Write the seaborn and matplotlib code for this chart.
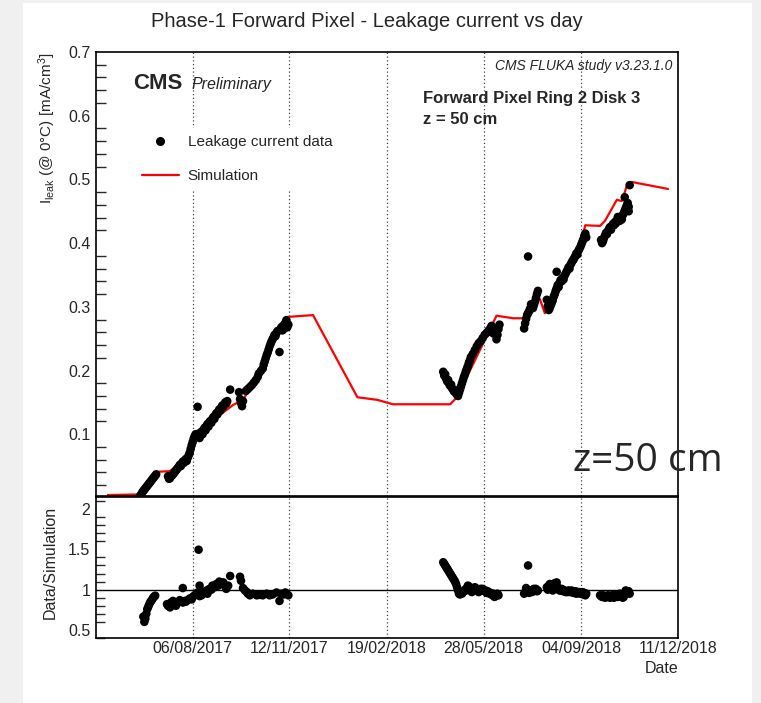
import numpy as np
import pandas as pd
import matplotlib
matplotlib.use('Agg')
import matplotlib.pyplot as plt
import matplotlib.dates as mdates
from matplotlib.ticker import MultipleLocator, FixedLocator
from matplotlib.patches import Rectangle
from matplotlib.lines import Line2D
import seaborn as sns

# ---------------- data ----------------
sim_dates = ["2017-05-12", "2017-06-13", "2017-07-01", "2017-07-14", "2017-07-24", "2017-08-03",
             "2017-08-13", "2017-09-05", "2017-09-16", "2017-09-26", "2017-10-10", "2017-10-23",
             "2017-11-09", "2017-12-06", "2018-01-20", "2018-02-09", "2018-02-25", "2018-04-24",
             "2018-05-01", "2018-06-10", "2018-06-27", "2018-07-07", "2018-07-17", "2018-07-24",
             "2018-07-29", "2018-08-03", "2018-08-10", "2018-08-20", "2018-08-31", "2018-09-08",
             "2018-09-23", "2018-09-28", "2018-10-10", "2018-10-15", "2018-10-21", "2018-10-25",
             "2018-12-01"]
sim_values = [0.0045, 0.0055, 0.041, 0.042, 0.055, 0.064,
              0.102, 0.133, 0.146, 0.154, 0.190, 0.232,
              0.284, 0.287, 0.158, 0.154, 0.147, 0.147,
              0.158, 0.286, 0.282, 0.282, 0.308, 0.312,
              0.290, 0.300, 0.315, 0.353, 0.378, 0.428,
              0.427, 0.435, 0.468, 0.466, 0.494, 0.496,
              0.485]

data_dates = [
    "2017-06-14", "2017-06-15", "2017-06-16", "2017-06-17", "2017-06-18", "2017-06-19", "2017-06-20",
    "2017-06-21", "2017-06-22", "2017-06-23", "2017-06-24", "2017-06-25", "2017-06-26", "2017-06-27",
    "2017-06-28", "2017-06-29", "2017-06-30",
    "2017-07-12", "2017-07-13", "2017-07-14", "2017-07-15", "2017-07-16", "2017-07-17", "2017-07-18",
    "2017-07-19", "2017-07-20", "2017-07-21", "2017-07-22", "2017-07-23", "2017-07-24", "2017-07-25",
    "2017-07-26", "2017-07-27", "2017-07-28", "2017-07-29", "2017-07-30", "2017-07-31", "2017-08-01",
    "2017-08-02", "2017-08-03",
    "2017-08-04", "2017-08-05", "2017-08-06", "2017-08-07", "2017-08-08", "2017-08-09", "2017-08-11",
    "2017-08-10", "2017-08-12", "2017-08-13", "2017-08-14", "2017-08-15", "2017-08-16", "2017-08-17",
    "2017-08-18", "2017-08-19", "2017-08-20", "2017-08-21", "2017-08-22", "2017-08-23", "2017-08-24",
    "2017-08-25", "2017-08-26", "2017-08-27", "2017-08-28", "2017-08-29", "2017-08-30", "2017-08-31",
    "2017-09-01", "2017-09-02", "2017-09-03", "2017-09-04", "2017-09-05", "2017-09-06", "2017-09-07",
    "2017-09-08", "2017-09-09", "2017-09-10", "2017-09-13",
    "2017-09-22", "2017-09-23", "2017-09-24", "2017-09-25", "2017-09-26",
    "2017-09-29", "2017-10-01", "2017-10-03", "2017-10-05", "2017-10-07", "2017-10-09", "2017-10-11",
    "2017-10-12", "2017-10-14", "2017-10-16", "2017-10-17", "2017-10-18", "2017-10-19", "2017-10-20",
    "2017-10-21", "2017-10-22", "2017-10-23", "2017-10-24", "2017-10-25", "2017-10-26", "2017-10-27",
    "2017-10-28", "2017-10-29", "2017-10-30", "2017-10-31", "2017-11-02", "2017-11-03", "2017-11-04",
    "2017-11-05", "2017-11-06", "2017-11-07", "2017-11-08", "2017-11-09", "2017-11-10", "2017-11-11",
    "2018-04-17", "2018-04-18", "2018-04-19", "2018-04-20", "2018-04-21", "2018-04-22", "2018-04-23",
    "2018-04-24", "2018-04-25", "2018-04-26", "2018-04-27", "2018-04-28", "2018-04-29", "2018-04-30",
    "2018-05-01", "2018-05-02", "2018-05-03", "2018-05-04", "2018-05-05", "2018-05-06", "2018-05-07",
    "2018-05-08", "2018-05-09", "2018-05-10", "2018-05-11", "2018-05-12", "2018-05-13", "2018-05-14",
    "2018-05-15", "2018-05-17", "2018-05-19", "2018-05-21", "2018-05-23", "2018-05-25", "2018-05-27",
    "2018-05-29", "2018-05-31", "2018-06-02", "2018-06-04", "2018-06-05", "2018-06-07", "2018-06-08",
    "2018-06-10", "2018-06-11", "2018-06-12", "2018-06-13",
    "2018-07-08", "2018-07-09", "2018-07-10", "2018-07-11", "2018-07-12", "2018-07-12", "2018-07-13",
    "2018-07-14", "2018-07-15", "2018-07-16", "2018-07-17", "2018-07-18", "2018-07-19", "2018-07-20",
    "2018-07-21", "2018-07-22",
    "2018-07-31", "2018-08-01", "2018-08-02", "2018-08-03", "2018-08-04", "2018-08-05", "2018-08-06",
    "2018-08-07", "2018-08-08", "2018-08-09", "2018-08-10", "2018-08-10", "2018-08-11", "2018-08-12",
    "2018-08-13", "2018-08-14", "2018-08-15", "2018-08-16", "2018-08-17", "2018-08-18", "2018-08-19",
    "2018-08-20", "2018-08-21", "2018-08-22", "2018-08-23", "2018-08-24", "2018-08-25", "2018-08-26",
    "2018-08-27", "2018-08-28", "2018-08-29", "2018-08-30", "2018-08-31", "2018-09-01", "2018-09-02",
    "2018-09-03", "2018-09-04", "2018-09-05", "2018-09-06", "2018-09-07", "2018-09-08", "2018-09-09",
    "2018-09-24", "2018-09-25", "2018-09-26", "2018-09-27", "2018-09-28", "2018-09-29", "2018-09-30",
    "2018-10-01", "2018-10-02", "2018-10-03", "2018-10-04", "2018-10-05", "2018-10-06", "2018-10-07",
    "2018-10-08", "2018-10-09", "2018-10-10", "2018-10-11", "2018-10-12", "2018-10-13", "2018-10-14",
    "2018-10-15", "2018-10-16", "2018-10-17", "2018-10-18", "2018-10-18", "2018-10-19", "2018-10-20",
    "2018-10-21", "2018-10-22", "2018-10-22", "2018-10-23"]
data_values = [
    0.004, 0.006, 0.009, 0.011, 0.013, 0.015, 0.017,
    0.019, 0.021, 0.023, 0.025, 0.027, 0.029, 0.031,
    0.033, 0.035, 0.037,
    0.034, 0.030, 0.031, 0.034, 0.035, 0.037, 0.039,
    0.041, 0.043, 0.045, 0.047, 0.049, 0.052, 0.050,
    0.054, 0.057, 0.055, 0.059, 0.061, 0.058, 0.063,
    0.067, 0.071,
    0.077, 0.083, 0.088, 0.093, 0.097, 0.100, 0.143,
    0.096, 0.101, 0.094, 0.099, 0.104, 0.100, 0.107,
    0.110, 0.106, 0.113, 0.116, 0.112, 0.119, 0.121,
    0.118, 0.124, 0.127, 0.124, 0.130, 0.133, 0.131,
    0.136, 0.139, 0.137, 0.142, 0.145, 0.143, 0.147,
    0.150, 0.148, 0.152, 0.170,
    0.166, 0.155, 0.149, 0.144, 0.152,
    0.168, 0.171, 0.174, 0.177, 0.181, 0.185, 0.190,
    0.195, 0.199, 0.203, 0.209, 0.214, 0.219, 0.224,
    0.228, 0.233, 0.238, 0.242, 0.246, 0.249, 0.252,
    0.256, 0.254, 0.259, 0.262, 0.229, 0.265, 0.268,
    0.263, 0.271, 0.266, 0.275, 0.279, 0.268, 0.272,
    0.198, 0.192, 0.194, 0.187, 0.183, 0.185, 0.179,
    0.176, 0.178, 0.172, 0.170, 0.167, 0.169, 0.164,
    0.162, 0.160, 0.165, 0.170, 0.175, 0.180, 0.185,
    0.190, 0.194, 0.199, 0.203, 0.207, 0.212, 0.216,
    0.221, 0.226, 0.232, 0.238, 0.243, 0.246, 0.251,
    0.256, 0.259, 0.263, 0.267, 0.270, 0.258, 0.262,
    0.249, 0.256, 0.265, 0.272,
    0.266, 0.274, 0.281, 0.287, 0.379, 0.290, 0.293,
    0.297, 0.304, 0.300, 0.298, 0.303, 0.308, 0.314,
    0.320, 0.325,
    0.311, 0.301, 0.295, 0.298, 0.302, 0.306, 0.310,
    0.316, 0.320, 0.325, 0.355, 0.329, 0.334, 0.331,
    0.338, 0.342, 0.340, 0.345, 0.343, 0.349, 0.352,
    0.355, 0.358, 0.362, 0.360, 0.366, 0.369, 0.372,
    0.374, 0.377, 0.380, 0.384, 0.382, 0.388, 0.391,
    0.394, 0.398, 0.402, 0.406, 0.411, 0.415, 0.409,
    0.405, 0.400, 0.403, 0.408, 0.412, 0.416, 0.414,
    0.419, 0.422, 0.425, 0.421, 0.427, 0.430, 0.428,
    0.433, 0.431, 0.436, 0.441, 0.438, 0.435, 0.440,
    0.437, 0.444, 0.447, 0.451, 0.472, 0.455, 0.459,
    0.463, 0.457, 0.450, 0.491]

ratio_dates = [
    "2017-06-17", "2017-06-18", "2017-06-19", "2017-06-20", "2017-06-21", "2017-06-22", "2017-06-23",
    "2017-06-24", "2017-06-25", "2017-06-26", "2017-06-27", "2017-06-28", "2017-06-29",
    "2017-07-11", "2017-07-12", "2017-07-14", "2017-07-15", "2017-07-17", "2017-07-19", "2017-07-20",
    "2017-07-22", "2017-07-24", "2017-07-25", "2017-07-27", "2017-07-27", "2017-07-29", "2017-07-30",
    "2017-08-01", "2017-08-03", "2017-08-05", "2017-08-06", "2017-08-08", "2017-08-10", "2017-08-11",
    "2017-08-12", "2017-08-13", "2017-08-13", "2017-08-15", "2017-08-16", "2017-08-18", "2017-08-20",
    "2017-08-21", "2017-08-23", "2017-08-25", "2017-08-26", "2017-08-28", "2017-08-30", "2017-09-01",
    "2017-09-02", "2017-09-04", "2017-09-06", "2017-09-07", "2017-09-09", "2017-09-11", "2017-09-13",
    "2017-09-23", "2017-09-24", "2017-09-26", "2017-09-28", "2017-09-30", "2017-10-01", "2017-10-03",
    "2017-10-06", "2017-10-10", "2017-10-13", "2017-10-16", "2017-10-20", "2017-10-23", "2017-10-26",
    "2017-10-30", "2017-11-02", "2017-11-04", "2017-11-06", "2017-11-08", "2017-11-09", "2017-11-11",
    "2018-04-17", "2018-04-18", "2018-04-19", "2018-04-20", "2018-04-21", "2018-04-22", "2018-04-23",
    "2018-04-24", "2018-04-25", "2018-04-26", "2018-04-27", "2018-04-28", "2018-04-29", "2018-04-30",
    "2018-05-01", "2018-05-02", "2018-05-03", "2018-05-04", "2018-05-05", "2018-05-06", "2018-05-07",
    "2018-05-08", "2018-05-09", "2018-05-10", "2018-05-11", "2018-05-12", "2018-05-13", "2018-05-14",
    "2018-05-15", "2018-05-16", "2018-05-17", "2018-05-18", "2018-05-19", "2018-05-20", "2018-05-21",
    "2018-05-22", "2018-05-23", "2018-05-24", "2018-05-25", "2018-05-26", "2018-05-27", "2018-05-28",
    "2018-05-29", "2018-05-30", "2018-05-31", "2018-06-01", "2018-06-02", "2018-06-03", "2018-06-04",
    "2018-06-05", "2018-06-06", "2018-06-07", "2018-06-08", "2018-06-09", "2018-06-10", "2018-06-11",
    "2018-06-12",
    "2018-07-08", "2018-07-09", "2018-07-10", "2018-07-11", "2018-07-12", "2018-07-13", "2018-07-14",
    "2018-07-15", "2018-07-16", "2018-07-17", "2018-07-18", "2018-07-19", "2018-07-20", "2018-07-21",
    "2018-07-22",
    "2018-07-31", "2018-08-01", "2018-08-02", "2018-08-03", "2018-08-04", "2018-08-05", "2018-08-06",
    "2018-08-07", "2018-08-08", "2018-08-09", "2018-08-10", "2018-08-11", "2018-08-12", "2018-08-13",
    "2018-08-14", "2018-08-15", "2018-08-16", "2018-08-17", "2018-08-18", "2018-08-19", "2018-08-20",
    "2018-08-21", "2018-08-22", "2018-08-23", "2018-08-24", "2018-08-25", "2018-08-26", "2018-08-27",
    "2018-08-28", "2018-08-29", "2018-08-30", "2018-08-31", "2018-09-01", "2018-09-02", "2018-09-03",
    "2018-09-04", "2018-09-05", "2018-09-06", "2018-09-07", "2018-09-08", "2018-09-09",
    "2018-09-23", "2018-09-24", "2018-09-25", "2018-09-26", "2018-09-27", "2018-09-28", "2018-09-29",
    "2018-09-30", "2018-10-01", "2018-10-02", "2018-10-03", "2018-10-04", "2018-10-05", "2018-10-06",
    "2018-10-07", "2018-10-08", "2018-10-09", "2018-10-10", "2018-10-11", "2018-10-12", "2018-10-13",
    "2018-10-14", "2018-10-15", "2018-10-16", "2018-10-17", "2018-10-18", "2018-10-19", "2018-10-20",
    "2018-10-21", "2018-10-22", "2018-10-23"]
ratio_values = [
    0.665, 0.600, 0.640, 0.700, 0.760, 0.790, 0.820,
    0.845, 0.860, 0.880, 0.900, 0.915, 0.925,
    0.820, 0.800, 0.780, 0.840, 0.860, 0.830, 0.800,
    0.840, 0.870, 0.850, 1.020, 0.840, 0.860, 0.850,
    0.870, 0.890, 0.880, 0.910, 0.930, 0.950, 0.965,
    1.496, 1.050, 0.920, 0.930, 0.950, 0.970, 0.990,
    0.950, 1.010, 1.000, 1.050, 1.030, 1.070, 1.050,
    1.100, 1.080, 1.090, 1.060, 1.010, 1.050, 1.170,
    1.160, 1.110, 1.020, 0.990, 0.970, 0.950, 0.930,
    0.950, 0.930, 0.935, 0.930, 0.950, 0.930, 0.940,
    0.965, 0.860, 0.950, 0.940, 0.965, 0.950, 0.930,
    1.340, 1.320, 1.300, 1.280, 1.260, 1.240, 1.220,
    1.200, 1.180, 1.160, 1.140, 1.120, 1.100, 1.070,
    1.030, 0.990, 0.950, 0.940, 0.960, 0.950, 0.970,
    0.980, 1.000, 0.990, 1.020, 1.050, 1.040, 1.020,
    0.990, 0.970, 0.990, 1.010, 1.030, 1.020, 1.000,
    0.980, 0.970, 0.990, 1.010, 1.000, 1.010, 0.990,
    0.980, 0.990, 0.960, 0.980, 0.970, 0.950, 0.960,
    0.940, 0.930, 0.950, 0.910, 0.920, 0.940, 0.950,
    0.930,
    0.950, 0.970, 1.020, 0.990, 1.300, 0.960, 0.980,
    0.990, 0.970, 1.000, 1.010, 0.990, 1.010, 0.980,
    0.990,
    1.030, 1.000, 1.050, 1.070, 1.040, 1.010, 0.990,
    1.020, 1.080, 1.050, 1.090, 1.030, 1.000, 0.990,
    0.990, 1.010, 1.000, 0.980, 0.990, 0.970, 0.980,
    0.970, 0.990, 0.980, 0.970, 0.990, 0.980, 0.960,
    0.970, 0.980, 0.950, 0.970, 0.960, 0.970, 0.950,
    0.960, 0.970, 0.940, 0.960, 0.930, 0.950,
    0.930, 0.920, 0.910, 0.930, 0.920, 0.900, 0.920,
    0.910, 0.930, 0.920, 0.900, 0.910, 0.930, 0.920,
    0.900, 0.920, 0.940, 0.930, 0.910, 0.930, 0.950,
    0.920, 0.940, 0.900, 0.910, 0.960, 0.990, 0.950,
    0.970, 0.980, 0.950]

tick_dates = ["2017-08-06", "2017-11-12", "2018-02-19", "2018-05-28", "2018-09-04", "2018-12-11"]
x_range = ["2017-04-30", "2018-12-11"]

main_yticks = [0.1, 0.2, 0.3, 0.4, 0.5, 0.6, 0.7]
ratio_yticks = [0.5, 1.0, 1.5, 2.0]
ratio_yticklabels = ["0.5", "1", "1.5", "2"]

# ---------------- style ----------------
sns.set_style('white')
plt.rcParams['font.family'] = ['Liberation Sans', 'DejaVu Sans']
plt.rcParams['mathtext.fontset'] = 'custom'
plt.rcParams['mathtext.rm'] = 'Liberation Sans'
plt.rcParams['mathtext.it'] = 'Liberation Sans:italic'
plt.rcParams['mathtext.bf'] = 'Liberation Sans:bold'

W, H = 761, 703
fig = plt.figure(figsize=(W / 100, H / 100), dpi=100)
fig.patch.set_facecolor('white')

# light-grey page margins
for (x0, y0, w, h) in [(0, 0, 23, H), (752, 0, W - 752, H), (0, H - 3, W, 3)]:
    fig.add_artist(Rectangle((x0 / W, y0 / H), w / W, h / H, transform=fig.transFigure,
                             facecolor='#f0f0f0', edgecolor='none', zorder=-5))

ax = fig.add_axes([96 / W, 1 - 496 / H, 582 / W, 444 / H])
axr = fig.add_axes([96 / W, 1 - 638 / H, 582 / W, 141 / H], sharex=ax)

sim_df = pd.DataFrame({'date': pd.to_datetime(sim_dates), 'value': sim_values})
data_df = pd.DataFrame({'date': pd.to_datetime(data_dates), 'value': data_values})
ratio_df = pd.DataFrame({'date': pd.to_datetime(ratio_dates), 'value': ratio_values})

sns.lineplot(data=sim_df, x='date', y='value', ax=ax, color='#ff0000', lw=1.6,
             estimator=None, sort=False, zorder=2, legend=False)
sns.scatterplot(data=data_df, x='date', y='value', ax=ax, color='black', s=38,
                edgecolor='none', linewidth=0, zorder=3, legend=False)
sns.scatterplot(data=ratio_df, x='date', y='value', ax=axr, color='black', s=38,
                edgecolor='none', linewidth=0, zorder=3, legend=False)
axr.axhline(1.0, color='black', lw=1.0, zorder=2)

tdates = pd.to_datetime(tick_dates)
xlo, xhi = pd.to_datetime(x_range)
for a in (ax, axr):
    a.set_xlim(xlo, xhi)
    a.set_xticks(tdates)
    a.set_xlabel('')
    a.set_ylabel('')
    for s in a.spines.values():
        s.set_color('black')
        s.set_linewidth(1.2)
    a.grid(False)
    for d in tdates:
        a.axvline(d, color='#444444', lw=0.9, ls=(0, (1, 2)), zorder=1)

ax.xaxis.set_major_formatter(mdates.DateFormatter('%d/%m/%Y'))
axr.xaxis.set_major_formatter(mdates.DateFormatter('%d/%m/%Y'))
ax.tick_params(axis='x', labelbottom=False, direction='in', length=7, width=1, color='black')
axr.tick_params(axis='x', labelbottom=True, direction='in', length=6, width=1, labelsize=11.5,
                pad=2, color='black')

ax.set_ylim(0.003, 0.7)
ax.yaxis.set_major_locator(FixedLocator(main_yticks))
ax.set_yticklabels([f"{v:.1f}" for v in main_yticks])
ax.yaxis.set_minor_locator(MultipleLocator(0.02))
ax.tick_params(axis='y', which='major', direction='in', length=13.5, width=1, labelsize=11.5, pad=4)
ax.tick_params(axis='y', which='minor', direction='in', length=7, width=1, left=True)

axr.set_ylim(0.4, 2.15)
axr.yaxis.set_major_locator(FixedLocator(ratio_yticks))
axr.set_yticklabels(ratio_yticklabels)
axr.yaxis.set_minor_locator(MultipleLocator(0.1))
axr.tick_params(axis='y', which='major', direction='in', length=12, width=1, labelsize=11.5, pad=4)
axr.tick_params(axis='y', which='minor', direction='in', length=6.5, width=1, left=True)

# legend
handles = [Line2D([], [], ls='none', marker='o', color='black', markersize=5.5),
           Line2D([], [], color='#ff0000', lw=1.6)]
leg = ax.legend(handles, ['Leakage current data', 'Simulation'], loc='upper left',
                bbox_to_anchor=(135 / W, 1 - 128 / H), bbox_transform=fig.transFigure,
                borderaxespad=0, borderpad=0.45, handlelength=2.4, handletextpad=0.6,
                labelspacing=1.35, fontsize=11, frameon=True, fancybox=False,
                facecolor='white', edgecolor='none', framealpha=1)
leg.set_zorder(6)

# texts
fig.text(367 / W, 1 - 27 / H, 'Phase-1 Forward Pixel - Leakage current vs day',
         ha='center', va='baseline', fontsize=14.5)
fig.text(133 / W, 1 - 89 / H, 'CMS', ha='left', va='baseline', fontsize=16, fontweight='bold')
fig.text(192 / W, 1 - 89 / H, 'Preliminary', ha='left', va='baseline', fontsize=11.5,
         fontstyle='italic')
fig.text(672 / W, 1 - 70 / H, 'CMS FLUKA study v3.23.1.0', ha='right', va='baseline',
         fontsize=10, fontstyle='italic')
fig.text(423 / W, 1 - 103 / H, 'Forward Pixel Ring 2 Disk 3', ha='left', va='baseline',
         fontsize=12, fontweight='bold')
fig.text(423 / W, 1 - 124 / H, 'z = 50 cm', ha='left', va='baseline',
         fontsize=12, fontweight='bold')
fig.text(573 / W, 1 - 471 / H, 'z=50 cm', ha='left', va='baseline', fontsize=28,
         family=['Open Sans', 'DejaVu Sans'], zorder=10)
fig.text(47 / W, 1 - 52 / H, r'I$_{\rm leak}$ (@ 0°C) [mA/cm$^{3}$]', rotation=90,
         ha='center', va='top', fontsize=11)
fig.text(50 / W, 1 - 562.5 / H, 'Data/Simulation', rotation=90, ha='center', va='center',
         fontsize=11.5)
fig.text(678 / W, 1 - 673 / H, 'Date', ha='right', va='baseline', fontsize=11.5)

fig.savefig('out.png', dpi=100)
